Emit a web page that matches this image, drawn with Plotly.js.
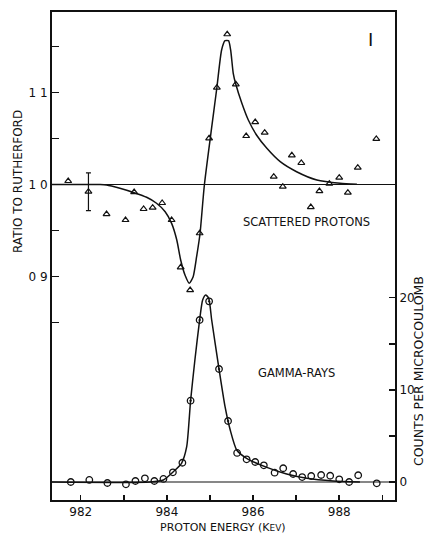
<!DOCTYPE html>
<html>
<head>
<meta charset="utf-8">
<script src="https://cdn.plot.ly/plotly-3.0.1.min.js"></script>
<style>
  html, body { margin: 0; padding: 0; background: #ffffff; }
  #chart { width: 425px; height: 533px; }
</style>
</head>
<body>
<div id="chart"></div>
<script>
// ---------- data ----------
// Scattered protons: ratio to Rutherford (triangles)
const protonEnergy = [981.71, 982.18, 982.60, 983.04, 983.24, 983.46, 983.67, 983.89, 984.11, 984.32,
                      984.54, 984.76, 984.98, 985.16, 985.40, 985.60, 985.84, 986.05, 986.27, 986.48,
                      986.69, 986.90, 987.12, 987.34, 987.54, 987.77, 988.00, 988.20, 988.43, 988.86];
const protonRatio  = [1.0038, 0.9922, 0.9679, 0.9614, 0.9918, 0.9734, 0.9748, 0.9799, 0.9614, 0.9100,
                      0.8853, 0.9470, 1.0502, 1.1052, 1.1633, 1.1089, 1.0527, 1.0679, 1.0563, 1.0085,
                      0.9976, 1.0317, 1.0234, 0.9755, 0.9929, 1.0009, 1.0074, 0.9911, 1.0183, 1.0495];
// single representative error bar (on the second point)
const protonErrorIndex = 1;
const protonErrorSize = 0.0205;

// Fitted curve through the proton data
const protonCurveEnergy = [981.33, 982.45, 982.60, 982.91, 983.24, 983.53, 983.76, 983.96, 984.11, 984.23,
                           984.32, 984.42, 984.52, 984.61, 984.69, 984.77, 984.87, 985.16, 985.27, 985.35,
                           985.43, 985.48, 985.54, 985.60, 985.74, 985.89, 986.08, 986.32, 986.63, 987.01,
                           987.48, 988.02, 988.41];
const protonCurveRatio  = [1.0000, 1.0000, 0.9995, 0.9959, 0.9911, 0.9861, 0.9796, 0.9704, 0.9578, 0.9397,
                           0.9179, 0.9016, 0.8926, 0.8998, 0.9215, 0.9470, 0.9995, 1.1052, 1.1462, 1.1563,
                           1.1563, 1.1462, 1.1209, 1.1089, 1.0883, 1.0701, 1.0538, 1.0393, 1.0248, 1.0139,
                           1.0049, 1.0013, 1.0002];

// Gamma-rays: counts per microcoulomb (circles)
const gammaEnergy = [981.77, 982.20, 982.62, 983.05, 983.27, 983.49, 983.71, 983.92, 984.14, 984.36,
                     984.55, 984.76, 984.98, 985.21, 985.42, 985.63, 985.85, 986.05, 986.25, 986.50,
                     986.70, 986.93, 987.14, 987.35, 987.58, 987.79, 988.00, 988.23, 988.44, 988.87];
const gammaCounts = [0.00, 0.22, -0.11, -0.25, 0.11, 0.40, 0.11, 0.33, 1.05, 2.09,
                     8.82, 17.58, 19.60, 12.26, 6.62, 3.15, 2.46, 2.17, 1.81, 1.01,
                     1.49, 0.87, 0.54, 0.65, 0.76, 0.68, 0.29, 0.00, 0.73, -0.14];

// Fitted curve through the gamma data
const gammaCurveEnergy = [981.33, 983.61, 983.92, 984.15, 984.34, 984.46, 984.55, 984.65, 984.76, 984.83,
                          984.90, 984.97, 985.04, 985.21, 985.35, 985.47, 985.62, 985.85, 986.32, 986.78,
                          987.25, 987.86, 988.48];
const gammaCurveCounts = [0.00, 0.00, 0.22, 1.12, 2.03, 3.83, 8.82, 13.24, 17.58, 19.75,
                          20.29, 19.96, 17.58, 12.26, 8.17, 5.64, 3.47, 2.57, 1.59, 0.87,
                          0.40, 0.11, 0.00];

// Axis ticks and labels
const energyTicks = [982, 983, 984, 985, 986, 987, 988, 989];
const energyTickText = ['982', '', '984', '', '986', '', '988', ''];
const ratioTicks = [0.85, 0.90, 0.95, 1.00, 1.05, 1.10, 1.15];
const ratioTickText = ['', '0 9', '', '1 0', '', '1 1', ''];
const countTicks = [0, 5, 10, 15, 20];
const countTickText = ['0', '', '10', '', '20'];

// ---------- drawing ----------
const ink = '#111111';
const fontFam = 'DejaVu Sans, Arial, sans-serif';

const protonErr = protonRatio.map((_, i) => (i === protonErrorIndex ? protonErrorSize : NaN));
const gammaSymbols = gammaCounts.map(c => (c > 4 ? 'circle-open-dot' : 'circle-open'));

const traces = [
  {
    x: protonCurveEnergy, y: protonCurveRatio, type: 'scatter', mode: 'lines',
    line: { color: ink, width: 1.5, shape: 'spline', smoothing: 0.6 },
    hoverinfo: 'skip', xaxis: 'x', yaxis: 'y'
  },
  {
    x: protonEnergy, y: protonRatio, type: 'scatter', mode: 'markers',
    marker: { symbol: 'triangle-up-open', size: 6, color: ink, line: { width: 1.2, color: ink } },
    error_y: { type: 'data', array: protonErr, visible: true, color: ink, thickness: 1.2, width: 2.5 },
    xaxis: 'x', yaxis: 'y'
  },
  {
    x: gammaCurveEnergy, y: gammaCurveCounts, type: 'scatter', mode: 'lines',
    line: { color: ink, width: 1.5, shape: 'spline', smoothing: 0.6 },
    hoverinfo: 'skip', xaxis: 'x', yaxis: 'y2'
  },
  {
    x: gammaEnergy, y: gammaCounts, type: 'scatter', mode: 'markers',
    marker: { symbol: gammaSymbols, size: 6.5, color: ink, line: { width: 1.3, color: ink } },
    xaxis: 'x', yaxis: 'y2'
  }
];

const plotLeft = 52, plotRight = 395, plotTop = 12, plotBottom = 500;
const pw = plotRight - plotLeft, ph = plotBottom - plotTop;
const px = v => (v - plotLeft) / pw;
const py = v => (plotBottom - v) / ph;

const layout = {
  width: 425, height: 533,
  margin: { l: plotLeft, r: 425 - plotRight, t: plotTop, b: 533 - plotBottom, pad: 0 },
  paper_bgcolor: '#ffffff', plot_bgcolor: '#ffffff',
  showlegend: false,
  font: { family: fontFam, color: ink, size: 12 },
  xaxis: {
    range: [981.334, 989.294],
    tickmode: 'array', tickvals: energyTicks, ticktext: energyTickText,
    ticks: 'inside', ticklen: 5, tickwidth: 1.5, tickcolor: ink,
    showline: true, linewidth: 2, linecolor: ink, mirror: true,
    showgrid: false, zeroline: false,
    tickfont: { family: fontFam, size: 12, color: ink }
  },
  yaxis: {
    range: [0.65706, 1.18751],
    tickmode: 'array', tickvals: ratioTicks, ticktext: ratioTickText,
    ticks: 'inside', ticklen: 7, tickwidth: 1.5, tickcolor: ink,
    showline: true, linewidth: 2, linecolor: ink,
    showgrid: false, zeroline: false,
    tickfont: { family: fontFam, size: 12, color: ink }
  },
  yaxis2: {
    overlaying: 'y', side: 'right',
    range: [-1.953, 51.0],
    tickmode: 'array', tickvals: countTicks, ticktext: countTickText,
    ticks: 'inside', ticklen: 6, tickwidth: 1.5, tickcolor: ink,
    showline: true, linewidth: 2, linecolor: ink,
    showgrid: false, zeroline: false,
    tickfont: { family: fontFam, size: 12, color: ink }
  },
  shapes: [
    { type: 'line', xref: 'paper', x0: 0, x1: 1, yref: 'y', y0: 1.0, y1: 1.0,
      line: { color: ink, width: 1.2 } },
    { type: 'line', xref: 'paper', x0: 0, x1: 1, yref: 'y2', y0: 0, y1: 0,
      line: { color: ink, width: 1.2 } }
  ],
  annotations: [
    { text: 'PROTON ENERGY (K<span style="font-size:9px">EV</span>)', xref: 'paper', yref: 'paper',
      x: px(223), y: py(527), xanchor: 'center', yanchor: 'middle', showarrow: false,
      font: { family: fontFam, size: 11, color: ink } },
    { text: 'RATIO TO RUTHERFORD', xref: 'paper', yref: 'paper', textangle: -90,
      x: px(18), y: py(182), xanchor: 'center', yanchor: 'middle', showarrow: false,
      font: { family: fontFam, size: 12, color: ink } },
    { text: 'COUNTS PER MICROCOULOMB', xref: 'paper', yref: 'paper', textangle: -90,
      x: px(418), y: py(371), xanchor: 'center', yanchor: 'middle', showarrow: false,
      font: { family: fontFam, size: 12.5, color: ink } },
    { text: 'SCATTERED PROTONS', xref: 'paper', yref: 'paper',
      x: px(306), y: py(222), xanchor: 'center', yanchor: 'middle', showarrow: false,
      font: { family: fontFam, size: 11.5, color: ink } },
    { text: 'GAMMA-RAYS', xref: 'paper', yref: 'paper',
      x: px(296.5), y: py(373), xanchor: 'center', yanchor: 'middle', showarrow: false,
      font: { family: fontFam, size: 11.5, color: ink } },
    { text: 'I', xref: 'paper', yref: 'paper',
      x: px(370), y: py(40), xanchor: 'center', yanchor: 'middle', showarrow: false,
      font: { family: fontFam, size: 18, color: ink } }
  ]
};

Plotly.newPlot('chart', traces, layout, { staticPlot: true, displayModeBar: false });
</script>
</body>
</html>
